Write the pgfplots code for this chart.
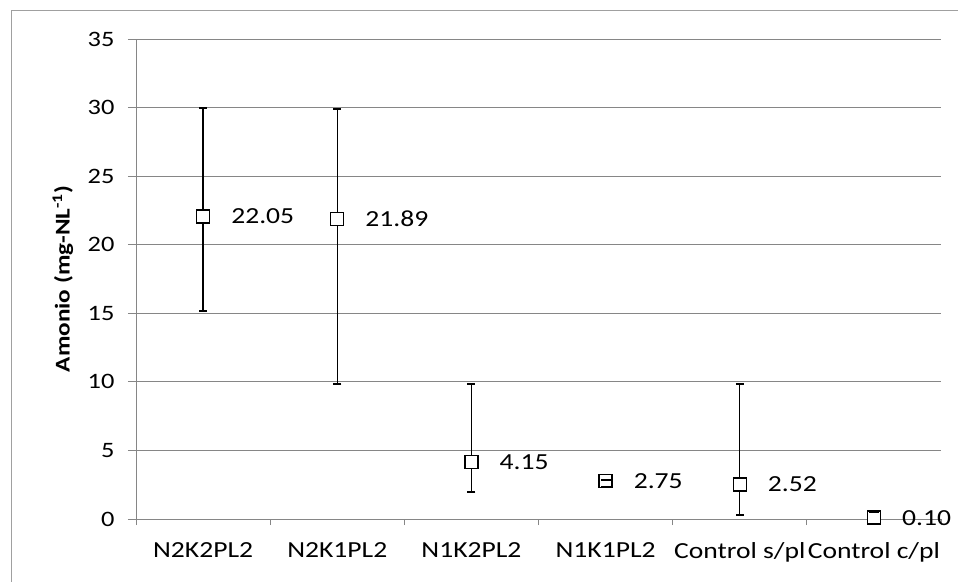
\documentclass[border=0pt]{standalone}
\usepackage{fontspec}
\setmainfont{Carlito}[FakeStretch=1.2]
\usepackage{pgfplots}
\pgfplotsset{compat=1.18}
\definecolor{gridc}{RGB}{134,134,134}
\definecolor{framec}{RGB}{160,160,160}
\begin{document}
\begin{tikzpicture}
\useasboundingbox (0bp,0bp) rectangle (958bp,-582bp);
\draw[framec, line width=1bp] (11bp,-582bp) -- (11bp,-10bp) -- (958bp,-10bp);
\begin{axis}[
  at={(136bp,-519bp)}, anchor=south west,
  scale only axis, width=805bp, height=480bp,
  xmin=-0.5, xmax=5.5, ymin=0, ymax=35,
  axis x line*=bottom, axis y line*=left,
  axis line style={gridc, line width=1bp, -},
  xtick={0,1,2,3,4,5},
  xticklabels={N2K2PL2,N2K1PL2,N1K2PL2,N1K1PL2,Control s/pl,Control c/pl},
  minor xtick={-0.5,0.5,1.5,2.5,3.5,4.5,5.5},
  major x tick style={draw=none},
  minor x tick style={gridc, line width=1bp},
  minor tick length=6bp,
  ytick={0,5,...,35},
  y tick style={gridc, line width=1bp},
  major tick length=8bp,
  tick align=outside,
  ymajorgrids, major grid style={gridc, line width=1bp},
  tick label style={font=\fontsize{22bp}{24bp}\selectfont},
  xticklabel style={font=\fontsize{23bp}{25bp}\selectfont, yshift=-12bp},
  yticklabel style={xshift=-10bp},
  /pgf/number format/assume math mode=true,
  ylabel={\textbf{Amonio (mg-NL\textsuperscript{-1})}},
  ylabel style={at={(axis description cs:-0.0907,0.5)}, anchor=center, font=\fontsize{21bp}{23bp}\selectfont},
  clip=false,
]
\addplot[black, line width=1bp, only marks,
  mark=square*, mark size=6.5bp, mark options={fill=white, draw=black, line width=1.3bp},
  error bars/.cd, y dir=both, y explicit,
  error bar style={black, line width=1.2bp},
  error mark options={black, line width=2bp, mark size=4bp, rotate=90},
] table[x=x, y=y, y error plus=ep, y error minus=em] {
x y ep em
0 22.05 7.95 6.85
1 21.89 8.01 12.04
2 4.15 5.70 2.15
3 2.75 0.10 0.45
4 2.52 7.33 2.22
5 0.10 0.25 0.10
};
% error-bar ends that show through the small markers
\addplot[only marks, forget plot, mark=-, mark size=5bp,
  mark options={black, line width=2bp}] table[x=x, y=y] {
x y
3 2.86
3 2.32
5 0.50
};
\addplot[only marks, mark=none,
  nodes near coords, point meta=explicit symbolic,
  every node near coord/.append style={anchor=west, inner sep=0pt, xshift=28bp, font=\fontsize{23bp}{25bp}\selectfont}
] table[x=x, y=y, meta=lab] {
x y lab
0 22.05 22.05
1 21.89 21.89
2 4.15 4.15
3 2.75 2.75
4 2.52 2.52
5 0.10 0.10
};
\end{axis}
\end{tikzpicture}
\end{document}
